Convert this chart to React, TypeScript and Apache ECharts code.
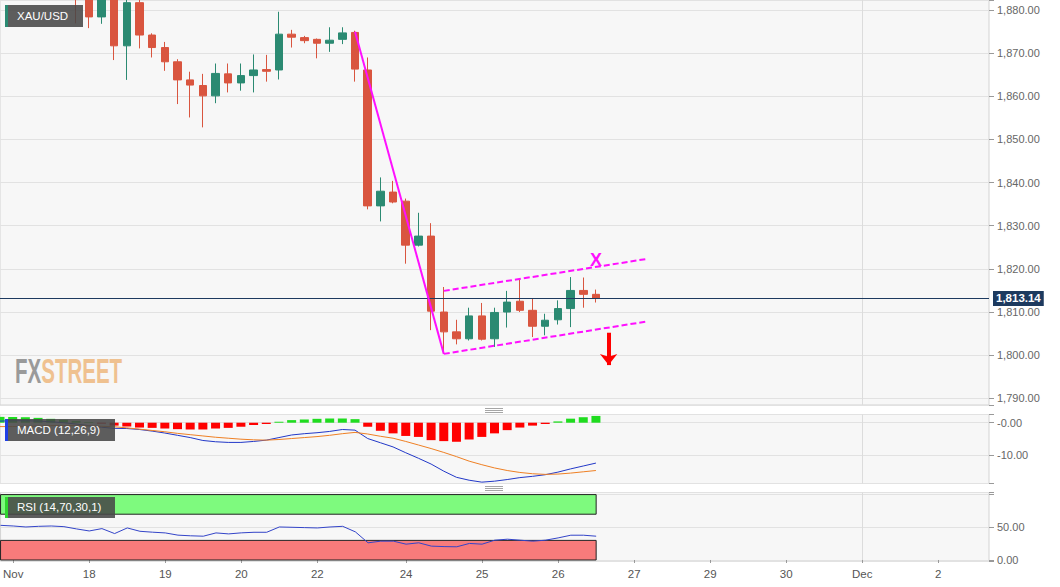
import React, { useEffect, useRef } from "react";
import * as echarts from "echarts";

// 4-hour slots on the x axis; labels sit on the first candle of each day
const dayTicks = ["Nov", "18", "19", "20", "22", "24", "25", "26", "27", "29", "30", "Dec", "2"];
const dayStarts = [1, 7, 13, 19, 25, 32, 38, 44, 50, 56, 62, 68, 74];
const SLOTS = 79;

// XAU/USD candles, slot 6 .. 47
const candleStart = 6;
const opens = [1886.0, 1884.5, 1878.4, 1885.0, 1871.7, 1881.7, 1874.2, 1871.3, 1868.0, 1863.8, 1862.5, 1860.1, 1865.2, 1863.1, 1864.8, 1866.2, 1866.1, 1874.4, 1873.6, 1873.2, 1872.3, 1873.2, 1874.8, 1866.1, 1834.6, 1837.8, 1835.7, 1825.5, 1827.6, 1810.0, 1805.4, 1803.8, 1809.1, 1803.8, 1810.0, 1812.5, 1810.4, 1806.7, 1808.2, 1810.8, 1815.0, 1814.1];
const closes = [1883.0, 1878.4, 1884.0, 1871.7, 1881.7, 1874.2, 1871.3, 1868.0, 1863.8, 1862.6, 1860.1, 1865.3, 1863.1, 1864.8, 1866.1, 1865.8, 1874.4, 1873.7, 1872.9, 1872.3, 1873.0, 1874.7, 1866.3, 1834.6, 1838.0, 1835.5, 1825.5, 1827.6, 1810.2, 1805.4, 1803.8, 1809.1, 1803.7, 1809.9, 1812.3, 1810.4, 1806.7, 1808.1, 1810.8, 1815.0, 1814.1, 1813.14];
const lows = [1876.9, 1875.8, 1876.8, 1868.4, 1863.8, 1871.1, 1869.0, 1865.9, 1858.2, 1855.1, 1852.8, 1858.4, 1860.9, 1861.3, 1860.9, 1863.4, 1863.9, 1871.3, 1872.3, 1868.8, 1870.3, 1872.1, 1863.4, 1833.8, 1831.0, 1835.2, 1821.2, 1825.2, 1805.8, 1800.3, 1802.5, 1803.4, 1803.4, 1801.9, 1806.4, 1810.0, 1804.2, 1804.6, 1807.1, 1806.5, 1811.0, 1812.2];
const highs = [1887.5, 1886.0, 1885.0, 1886.0, 1884.0, 1883.0, 1874.6, 1872.6, 1868.6, 1865.7, 1865.2, 1867.6, 1867.6, 1867.6, 1869.7, 1869.6, 1879.6, 1875.4, 1874.0, 1873.4, 1876.0, 1876.0, 1875.2, 1869.0, 1841.2, 1840.4, 1836.3, 1833.0, 1830.6, 1815.8, 1808.2, 1811.0, 1812.1, 1811.0, 1814.9, 1817.7, 1813.1, 1809.6, 1812.7, 1818.1, 1818.0, 1815.2];
const lastPrice = 1813.14;

// MACD (12,26,9), slot 0 .. 47
const histogram = [1.8, 1.8, 1.7, 1.5, 1.2, 0.9, 0.5, 0.2, -0.3, -0.9, -1.2, -1.5, -1.6, -1.8, -2.0, -2.1, -2.1, -1.8, -1.6, -1.25, -0.7, -0.4, 0.3, 0.8, 1.0, 1.2, 1.3, 1.3, 1.1, -1.25, -2.5, -3.3, -4.1, -4.4, -5.4, -5.7, -5.9, -5.2, -4.4, -3.3, -2.3, -1.5, -0.9, -0.4, 0.4, 1.25, 1.7, 2.1];
const macdLine = [0.5, 0.6, 0.6, 0.5, 0.3, 0.0, -0.4, -0.9, -1.4, -1.75, -1.8, -2.1, -2.6, -3.2, -3.9, -4.6, -5.5, -5.9, -6.1, -6.1, -5.8, -5.4, -4.6, -3.8, -3.4, -3.1, -2.7, -2.1, -2.3, -4.9, -6.2, -7.5, -9.3, -11.0, -12.8, -15.0, -16.9, -17.8, -18.4, -18.1, -17.6, -17.0, -16.6, -16.1, -15.3, -14.3, -13.4, -12.5];
const signalLine = [-1.2, -1.2, -1.1, -1.0, -0.9, -0.9, -0.9, -1.0, -1.1, -1.25, -1.6, -2.0, -2.4, -2.8, -3.3, -3.7, -4.1, -4.5, -4.8, -5.1, -5.3, -5.4, -5.2, -4.9, -4.6, -4.3, -3.9, -3.4, -3.0, -3.5, -4.2, -4.8, -5.8, -6.9, -8.0, -9.2, -10.5, -11.9, -13.0, -14.0, -14.8, -15.4, -15.8, -16.0, -15.9, -15.6, -15.2, -14.8];

// RSI (14,70,30,1), slot 0 .. 47
const rsiLine = [53, 52, 50.5, 51.5, 52, 51, 47.5, 44.4, 48, 40.4, 49, 43.9, 42.5, 41.4, 38, 37, 36.4, 41.4, 39.9, 41.5, 42.4, 42.4, 50.5, 50, 49.5, 49, 50.5, 51.5, 43, 26.3, 28.8, 28.8, 24.2, 26.3, 21.2, 20.5, 20.2, 25.3, 24.2, 30.3, 31.8, 30.3, 28.8, 30.3, 33.8, 37.9, 37.9, 36.4];
const rsiUpper = [70, 100];
const rsiLower = [0, 30];

// drawn annotations: [slot, price]
const fallLine = [[28, 1874.97], [35, 1800.3]];
const channelTop = [[35, 1814.9], [51, 1822.3]];
const channelBottom = [[35, 1800.3], [51, 1807.8]];
const markX = [47.45, 1822.1];
const arrowDown = [[48.06, 1805.2], [48.06, 1797.7]];

const GREEN = "#2b8a72";
const RED = "#d9553f";
const MAGENTA = "#ff10ff";
const FONT = '"Liberation Sans", Arial, sans-serif';

const categories = Array.from({ length: SLOTS }, (_, i) => {
    const k = dayStarts.indexOf(i);
    return k >= 0 ? dayTicks[k] : "";
});

const gridBox = { show: true, backgroundColor: "#f7f7f7", borderColor: "#d3d3d3", borderWidth: 1, left: 0, width: 989 };
const splitColor = "#e2e2e2";

const xAxisFor = (gridIndex: number, labels: boolean) => ({
    type: "category",
    gridIndex,
    data: categories,
    boundaryGap: false,
    axisLine: { show: false },
    axisTick: labels
        ? { show: true, length: 3, interval: (_: number, v: string) => v !== "", lineStyle: { color: "#999" } }
        : { show: false },
    axisLabel: labels
        ? { show: true, interval: (_: number, v: string) => v !== "", color: "#555", fontSize: 11.5, margin: 7, fontFamily: FONT }
        : { show: false },
    splitLine: { show: true, interval: (_: number, v: string) => v === "Dec", lineStyle: { color: "#dcdcdc" } },
});

const yAxisFor = (gridIndex: number, min: number, max: number, splitNumber: number, fmt: (v: number) => string) => ({
    type: "value",
    gridIndex,
    position: "right",
    min,
    max,
    splitNumber,
    scale: true,
    axisLine: { show: false },
    axisTick: { show: true, length: 5, lineStyle: { color: "#999" } },
    axisLabel: { color: "#666", fontSize: 11, margin: 8, fontFamily: FONT, formatter: fmt },
    splitLine: { show: true, lineStyle: { color: splitColor } },
});

const near = (v: number, t: number) => Math.abs(v - t) < 1e-6;

const labelBox = (y: number, h: number, w: number, bar: string, text: string) => [
    { type: "rect", left: 5, top: y, shape: { width: w, height: h }, style: { fill: "rgba(72,72,72,0.88)" }, z: 100 },
    { type: "rect", left: 5, top: y, shape: { width: 3, height: h }, style: { fill: bar }, z: 101 },
    {
        type: "text", left: 17, top: y + h / 2 - 6.5, z: 101,
        style: { text, fill: "#fff", fontSize: 11.5, fontFamily: FONT },
    },
];

// pane resize grips
const handle = (y: number) =>
    [0, 2, 4].map((d) => ({
        type: "line", z: 100,
        shape: { x1: 485, y1: y + d + 0.5, x2: 503, y2: y + d + 0.5 },
        style: { stroke: "#8f8f8f", lineWidth: 0.8 },
    }));

const App: React.FC = () => {
    const chartRef = useRef<HTMLDivElement | null>(null);

    useEffect(() => {
        if (!chartRef.current) return;
        const chart = echarts.init(chartRef.current, undefined, { renderer: "svg" });

        const candles = opens.map((o, i) => [i + candleStart, o, closes[i], lows[i], highs[i]]);

        const option: any = {
            animation: false,
            backgroundColor: "#ffffff",
            textStyle: { fontFamily: FONT },
            grid: [
                { ...gridBox, top: 0, height: 405 },
                { ...gridBox, top: 414.5, height: 69 },
                { ...gridBox, top: 492.5, height: 68.5 },
            ],
            xAxis: [xAxisFor(0, false), xAxisFor(1, false), xAxisFor(2, true)],
            yAxis: [
                yAxisFor(0, 1788.45, 1882.32, 9, (v) =>
                    near(v, Math.round(v / 10) * 10)
                        ? v.toLocaleString("en-US", { minimumFractionDigits: 2, maximumFractionDigits: 2 })
                        : ""),
                yAxisFor(1, -18.82, 2.54, 2, (v) => (near(v, 0) ? "-0.00" : near(v, -10) ? "-10.00" : "")),
                yAxisFor(2, -1.53, 103.2, 2, (v) => (near(v, 0) || near(v, 50) ? v.toFixed(2) : "")),
            ],
            series: [
                {
                    type: "candlestick",
                    xAxisIndex: 0,
                    yAxisIndex: 0,
                    data: candles,
                    encode: { x: 0, y: [1, 2, 3, 4] },
                    barWidth: 8,
                    clip: true,
                    itemStyle: { color: GREEN, color0: RED, borderColor: GREEN, borderColor0: RED, borderWidth: 1 },
                    markLine: {
                        silent: true,
                        animation: false,
                        symbol: ["none", "none"],
                        data: [{ yAxis: lastPrice }],
                        lineStyle: { color: "#1d3a5f", width: 1, type: "solid" },
                        label: {
                            show: true,
                            position: "end",
                            distance: 4,
                            formatter: () => lastPrice.toLocaleString("en-US", { minimumFractionDigits: 2 }),
                            color: "#fff",
                            fontWeight: "bold",
                            fontSize: 11.5,
                            fontFamily: FONT,
                            backgroundColor: "#1d3a5f",
                            padding: [2, 3, 1, 3],
                        },
                    },
                },
                {
                    type: "line", xAxisIndex: 0, yAxisIndex: 0, data: fallLine, symbol: "none",
                    lineStyle: { color: MAGENTA, width: 2 }, z: 5,
                },
                {
                    type: "line", xAxisIndex: 0, yAxisIndex: 0, data: channelTop, symbol: "none",
                    lineStyle: { color: MAGENTA, width: 2, type: [6, 3] }, z: 5,
                },
                {
                    type: "line", xAxisIndex: 0, yAxisIndex: 0, data: channelBottom, symbol: "none",
                    lineStyle: { color: MAGENTA, width: 2, type: [6, 3] }, z: 5,
                },
                {
                    type: "scatter", xAxisIndex: 0, yAxisIndex: 0, data: [markX], symbolSize: 1,
                    itemStyle: { color: "transparent", opacity: 1 }, z: 6,
                    label: {
                        show: true, position: "inside", formatter: "X", color: MAGENTA,
                        fontSize: 18, fontWeight: "bold", opacity: 1, fontFamily: FONT,
                    },
                    markLine: {
                        silent: true,
                        animation: false,
                        symbol: ["none", "arrow"],
                        symbolSize: [13, 11],
                        label: { show: false },
                        lineStyle: { color: "#ff0000", width: 4, type: "solid", opacity: 1 },
                        data: [[{ coord: arrowDown[0] }, { coord: arrowDown[1] }]],
                    },
                },
                {
                    type: "bar", xAxisIndex: 1, yAxisIndex: 1, data: histogram, barWidth: 9,
                    itemStyle: { color: (p: any) => (p.value >= 0 ? "#1fdc1f" : "#ff0000") },
                },
                {
                    type: "line", xAxisIndex: 1, yAxisIndex: 1, data: macdLine, symbol: "none",
                    lineStyle: { color: "#2238c8", width: 1 },
                },
                {
                    type: "line", xAxisIndex: 1, yAxisIndex: 1, data: signalLine, symbol: "none",
                    lineStyle: { color: "#ef8024", width: 1 },
                },
                {
                    type: "line", xAxisIndex: 2, yAxisIndex: 2, data: rsiLine, symbol: "none",
                    lineStyle: { color: "#3344c8", width: 1 }, z: 5,
                    markArea: {
                        silent: true,
                        data: [
                            [
                                { coord: [0, rsiUpper[0]], itemStyle: { color: "#7efa7e", borderColor: "#222", borderWidth: 1 } },
                                { coord: [rsiLine.length - 1, rsiUpper[1]] },
                            ],
                            [
                                { coord: [0, rsiLower[0]], itemStyle: { color: "#f87b7b", borderColor: "#222", borderWidth: 1 } },
                                { coord: [rsiLine.length - 1, rsiLower[1]] },
                            ],
                        ],
                    },
                },
            ],
            graphic: [
                ...labelBox(5, 22, 78, GREEN, "XAU/USD"),
                ...labelBox(419, 22, 110, "#1f3fe6", "MACD (12,26,9)"),
                ...labelBox(497, 21, 110, "#2fd62f", "RSI (14,70,30,1)"),
                ...handle(408),
                ...handle(486),
                {
                    type: "text", left: 15, top: 352, scaleX: 0.57, z: 50,
                    style: {
                        text: "{a|FX}{b|STREET}",
                        rich: {
                            a: { fill: "#9a9a9a", fontSize: 36, fontWeight: "bold", fontFamily: FONT },
                            b: { fill: "#efc190", fontSize: 36, fontWeight: "bold", fontFamily: FONT },
                        },
                    },
                },
            ],
        };

        chart.setOption(option);
        return () => chart.dispose();
    }, []);

    return (
        <div
            ref={chartRef}
            style={{ position: "fixed", left: 0, top: 0, width: 1060, height: 587, background: "#fff" }}
        />
    );
};

export default App;
